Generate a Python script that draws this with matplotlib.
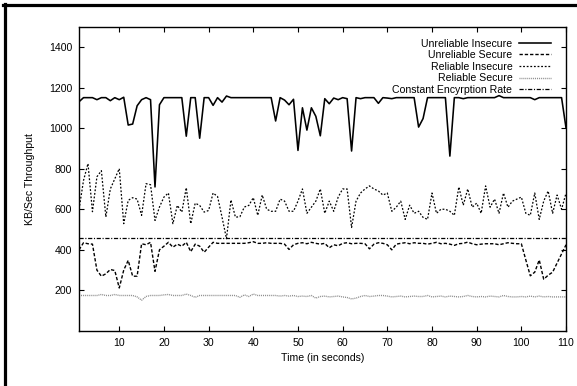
import numpy as np
import matplotlib
matplotlib.use("Agg")
import matplotlib.pyplot as plt
from matplotlib.lines import Line2D

# tempo (segundos)
tempo = np.arange(1, 111)

unrel_insec = [1130, 1150, 1150, 1150, 1140, 1150, 1150, 1135, 1150, 1140,
               1152, 1015, 1020, 1110, 1140, 1150, 1140, 710, 1115, 1150,
               1150, 1150, 1150, 1150, 960, 1150, 1150, 950, 1150, 1150,
               1112, 1150, 1128, 1158, 1150, 1150, 1150, 1150, 1150, 1150,
               1150, 1150, 1150, 1150, 1035, 1150, 1138, 1115, 1142, 890,
               1100, 990, 1100, 1058, 962, 1145, 1120, 1148, 1140, 1150,
               1145, 887, 1150, 1145, 1150, 1150, 1150, 1122, 1150, 1148,
               1145, 1150, 1150, 1150, 1150, 1150, 1005, 1047, 1150, 1150,
               1150, 1150, 1150, 862, 1150, 1150, 1145, 1150, 1150, 1150,
               1150, 1150, 1150, 1150, 1160, 1150, 1150, 1150, 1150, 1150,
               1150, 1150, 1140, 1150, 1150, 1150, 1150, 1150, 1150, 1000]

unrel_sec = [400, 435, 430, 428, 300, 270, 282, 303, 298, 212,
             300, 348, 270, 270, 430, 425, 437, 294, 400, 418,
             437, 413, 428, 418, 437, 391, 428, 418, 388, 413,
             437, 432, 432, 432, 432, 432, 432, 432, 435, 440,
             432, 432, 435, 432, 432, 432, 428, 402, 425, 432,
             435, 430, 437, 432, 428, 432, 410, 425, 420, 432,
             435, 430, 432, 432, 430, 405, 428, 435, 432, 425,
             400, 428, 432, 435, 430, 435, 432, 432, 428, 432,
             437, 430, 432, 428, 422, 430, 432, 438, 430, 425,
             428, 430, 430, 430, 425, 430, 435, 432, 430, 430,
             350, 272, 290, 350, 255, 275, 290, 335, 380, 425]

rel_insec = [600, 742, 825, 588, 760, 790, 562, 700, 750, 800,
             529, 644, 657, 650, 570, 726, 721, 545, 611, 660,
             680, 529, 619, 586, 706, 529, 630, 619, 586, 594,
             680, 663, 561, 455, 646, 561, 563, 611, 619, 657,
             570, 670, 600, 590, 590, 650, 640, 590, 590, 640,
             700, 580, 610, 640, 700, 580, 640, 590, 660, 700,
             700, 510, 640, 680, 700, 715, 700, 690, 670, 680,
             590, 610, 640, 550, 620, 580, 590, 560, 550, 680,
             580, 600, 600, 590, 570, 710, 620, 700, 610, 630,
             580, 715, 610, 650, 580, 680, 610, 640, 650, 660,
             580, 570, 680, 550, 640, 690, 580, 670, 600, 680]

rel_sec = [175, 175, 175, 175, 175, 180, 175, 175, 180, 175,
           175, 175, 175, 168, 152, 170, 175, 175, 175, 178,
           180, 175, 175, 175, 182, 175, 166, 175, 175, 175,
           175, 175, 175, 175, 175, 175, 166, 178, 170, 182,
           175, 175, 175, 175, 175, 172, 175, 172, 175, 170,
           172, 170, 175, 162, 170, 172, 168, 170, 172, 168,
           165, 158, 162, 170, 175, 170, 172, 175, 175, 172,
           168, 170, 172, 168, 170, 172, 170, 170, 175, 168,
           170, 172, 168, 172, 170, 168, 170, 175, 170, 168,
           170, 168, 172, 170, 168, 175, 170, 168, 168, 170,
           168, 172, 168, 172, 168, 170, 168, 168, 168, 168]

taxa_cripto = 460

plt.rcParams["font.family"] = ["Liberation Sans", "DejaVu Sans"]
plt.rcParams["font.size"] = 7.6
plt.rcParams["lines.scale_dashes"] = False

fig = plt.figure(figsize=(5.77, 3.86), dpi=100)
ax = fig.add_axes([0.137, 0.1425, 0.844, 0.7885])

ax.plot(tempo, unrel_insec, color="black", lw=1.15, label="Unreliable Insecure")
ax.plot(tempo, unrel_sec, color="black", lw=1.0, dashes=(2.4, 1.4), label="Unreliable Secure")
ax.plot(tempo, rel_insec, color="black", lw=0.9, dashes=(1.3, 1.3), label="Reliable Insecure")
ax.plot(tempo, rel_sec, color="#8a8a8a", lw=1.0, dashes=(0.7, 0.7), label="Reliable Secure")
ax.axhline(taxa_cripto, color="black", lw=0.9, dashes=(3, 1.2, 0.8, 1.2), label="Constant Encyrption Rate")

ax.set_xlim(1, 110)
ax.set_ylim(0, 1500)
ax.set_xticks(range(10, 111, 10))
ax.set_yticks(range(200, 1401, 200))
ax.tick_params(direction="in", length=3.5, width=0.8, top=True, right=True, pad=5)
for s in ax.spines.values():
    s.set_linewidth(1.0)

ax.set_xlabel("Time (in seconds)", labelpad=4)
ax.set_ylabel("KB/Sec Throughput", labelpad=10)

ax.legend(loc="upper right", frameon=False, markerfirst=False, handlelength=3.1,
          labelspacing=0.15, handletextpad=0.6, borderaxespad=0.3,
          bbox_to_anchor=(0.985, 0.985))

# moldura da figura (topo e esquerda)
fig.add_artist(Line2D([0.006, 1.0], [0.987, 0.987], color="black", lw=2.3, transform=fig.transFigure))
fig.add_artist(Line2D([0.009, 0.009], [0.0, 0.99], color="black", lw=2.3, transform=fig.transFigure))

fig.savefig("out.png", dpi=100)
